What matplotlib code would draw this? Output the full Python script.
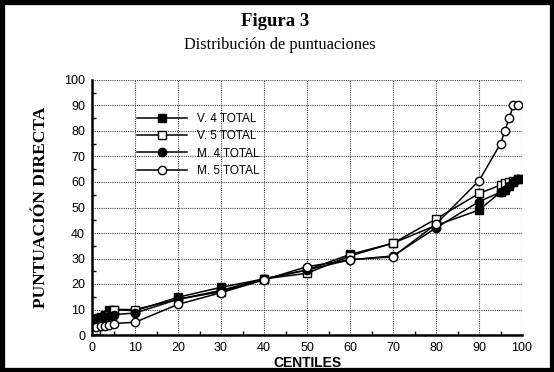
import matplotlib
matplotlib.use("Agg")
import matplotlib.pyplot as plt
from matplotlib.patches import Rectangle
from matplotlib.ticker import MultipleLocator

centiles = [1, 2, 3, 4, 5, 10, 20, 30, 40, 50, 60, 70, 80, 90, 95, 96, 97, 98, 99]
v4_total = [6, 7, 8, 10, 10, 9.5, 14.8, 18.7, 22, 25.5, 31.6, 36, 43, 49, 56, 57, 58.5, 60, 61]
v5_total = [2, 5, 7, 8, 10, 10, 14, 17, 22, 24.2, 31, 36, 45.5, 55.5, 58.8, 59.5, 60, 60.5, 61]
m4_total = [6.5, 7, 7, 7.5, 8, 8.6, 14, 17.5, 22, 25.5, 29.5, 31, 42, 52.3, 56, 57, 58.5, 60, 61]
m5_total = [3, 3.5, 3.5, 4, 4.5, 5, 12, 16.6, 21.6, 26.8, 29.5, 30.7, 43.5, 60.5, 75, 80, 85, 90, 90]

series_labels = ["V. 4 TOTAL", "V. 5 TOTAL", "M. 4 TOTAL", "M. 5 TOTAL"]
title = "Figura 3"
subtitle = "Distribución de puntuaciones"
xlabel = "CENTILES"
ylabel = "PUNTUACIÓN DIRECTA"

W, H = 554, 372
fig = plt.figure(figsize=(W / 100, H / 100), dpi=100)
fig.patch.set_facecolor("white")

ax = fig.add_axes([92 / W, (H - 335) / H, 430 / W, 255 / H])
ax.set_xlim(0, 100)
ax.set_ylim(0, 100)

ms = 6
common = dict(color="black", lw=1.1, markersize=ms, markeredgecolor="black", markeredgewidth=1.0)
ax.plot(centiles, v4_total, marker="s", markerfacecolor="black", label=series_labels[0], **common)
ax.plot(centiles, v5_total, marker="s", markerfacecolor="white", label=series_labels[1], **common)
ax.plot(centiles, m4_total, marker="o", markerfacecolor="black", label=series_labels[2], **common)
ax.plot(centiles, m5_total, marker="o", markerfacecolor="white", label=series_labels[3], **common)

ax.xaxis.set_major_locator(MultipleLocator(10))
ax.yaxis.set_major_locator(MultipleLocator(10))
ax.xaxis.set_minor_locator(MultipleLocator(5))
ax.yaxis.set_minor_locator(MultipleLocator(5))
ax.grid(True, which="major", color="#444444", linestyle=(0, (1, 1)), linewidth=0.8)
ax.set_axisbelow(True)
ax.tick_params(which="major", length=0, labelsize=9, pad=5)
ax.tick_params(which="minor", direction="in", length=3, width=1, color="black")
ax.tick_params(axis="x", which="minor", top=False)
ax.tick_params(axis="y", which="minor", right=False)
for lab in ax.get_xticklabels() + ax.get_yticklabels():
    lab.set_fontfamily("Liberation Sans")

for s in ("top", "right"):
    ax.spines[s].set_visible(False)
for s in ("left", "bottom"):
    ax.spines[s].set_linewidth(1.8)
    ax.spines[s].set_color("black")

ax.set_xlabel(xlabel, fontfamily="Liberation Sans", fontweight="bold", fontsize=10, labelpad=1.5)
ax.set_ylabel(ylabel, fontfamily="Liberation Serif", fontweight="bold", fontsize=12.5, labelpad=11)

leg = ax.legend(loc="upper left", bbox_to_anchor=((137 - 92) / 430, (335 - 113) / 255),
                frameon=False, handlelength=4.2, handletextpad=0.9,
                labelspacing=0.45, borderpad=0, borderaxespad=0,
                prop={"family": "Liberation Sans", "size": 8.5})

fig.text(275 / W, 1 - 22 / H, title, ha="center", va="center",
         fontfamily="Liberation Serif", fontweight="bold", fontsize=13.5)
fig.text(280 / W, 1 - 45 / H, subtitle, ha="center", va="center",
         fontfamily="Liberation Serif", fontsize=11.8)

fig.patches.append(Rectangle((0.004, 0.005), 0.992, 0.99, transform=fig.transFigure,
                             fill=False, edgecolor="black", linewidth=3.8))

fig.savefig("out.png", dpi=100)
